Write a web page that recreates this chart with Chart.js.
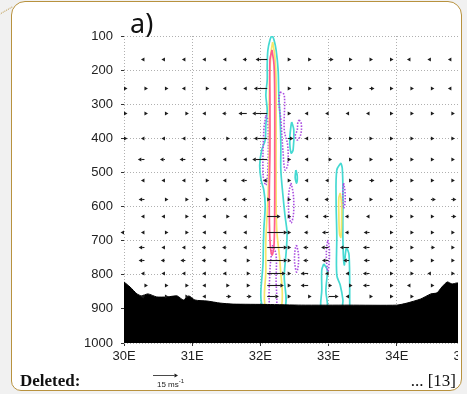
<!DOCTYPE html>
<html>
<head>
<meta charset="utf-8">
<script src="https://cdn.jsdelivr.net/npm/chart.js@4.4.1/dist/chart.umd.min.js"></script>
<style>
  body { margin: 0; width: 467px; height: 394px; background: #f1f1f1; position: relative; overflow: hidden; font-family: 'Liberation Sans', sans-serif; }
  #card { position: absolute; left: 11px; top: 1px; width: 449px; height: 388px; border: 1.5px solid #b8923e; border-radius: 14px 14px 12px 10px; background: #fff; }
  #wrap { position: absolute; left: 0; top: 0; width: 458px; height: 394px; overflow: hidden; }
  #lead { position: absolute; left: -1px; top: 14px; width: 15px; border-top: 1px dotted #b8923e; transform: rotate(-30deg); transform-origin: left top; }
  .t { position: absolute; line-height: 1; white-space: nowrap; color: #111; }
  #panel { left: 130px; top: 9px; font-family: 'Noto Sans', sans-serif; font-size: 27px; }
  #deleted { left: 20px; top: 372px; font-family: 'Liberation Serif', serif; font-weight: bold; font-size: 17px; }
  #ref { right: 11px; top: 372px; font-family: 'Liberation Serif', serif; font-size: 17px; }
  #key { left: 157px; top: 378px; font-size: 8px; color: #222; }
  #key sup { font-size: 6px; }
</style>
</head>
<body>
<div id="lead"></div>
<div id="card"></div>
<div id="wrap"><canvas id="c" width="470" height="394"></canvas></div>
<div class="t" id="panel">a)</div>
<div class="t" id="deleted">Deleted:</div>
<div class="t" id="ref">... [13]</div>
<div class="t" id="key">15 ms<sup>-1</sup></div>
<script>
// wind vector grid: longitude columns, pressure rows, zonal wind (m/s, + = eastward)
const lons = [30.0, 30.3, 30.6, 30.9, 31.2, 31.5, 31.8, 32.1, 32.4, 32.7, 33.0, 33.3, 33.6, 33.9, 34.2, 34.5, 34.8];
const levels = [167, 252, 326, 399, 461, 522, 578, 628, 675, 719, 757, 795, 830, 862];
const uWind = [
  [null, -2, -2, -1.5, -2, -1.5, -2.5, -7, 1.5, 2, 3, 2, 2, 2, -2, -2, -2],
  [1.5, 2, 2, -2, 2, -2, -2, -8, 1.5, 1.5, 2, 2, 3, 1.5, 2, 2, -2],
  [2, 1.5, 1.5, 2, -2, -2.5, -5, -9, 2, -2, -2, -2, -2, 2, 2, 2, 2],
  [1.5, -2, -1.5, -1.5, -2.5, 2, -2, -8, 3.5, -1.5, 2, 2, 2, 2, 2, 2, 2],
  [null, -4, -3, -3.5, -2.5, -1.5, -1.5, -9, 1.5, -2, 2, 1.5, 1.5, 2, 1.5, 1.5, 1.5],
  [null, -1.5, -2, -2, 2, -2, -3.5, -2.5, 1.5, -2, -2, 1.5, 3, 2, 1.5, 1.5, 1.5],
  [null, -3.5, 1.5, 1.5, 2, -2, -3, 1.5, 1.5, -2, -2.5, 1.5, 1.5, 1.5, 2, 3, 3],
  [null, -1.5, -2, 1.5, -2, 1.5, -1.5, 8, 1.5, -2, -3.5, -2.5, -1.5, 2, 1.5, 1.5, 3],
  [-1.5, -2, 2, 1.5, -2, -1.5, -1.5, 12, 1.5, -2.5, -4, -2.5, -3.5, 1.5, 2, 1.5, 1.5],
  [null, -3.5, -2, -1.5, -2.5, -2.5, -1.5, 12, 1.5, -3, -4.5, -5.5, -4, 1.5, 1.5, 2.5, 1.5],
  [null, -3.5, -2.5, -3, -2.5, -2, 1.5, 12, 1.5, -3, -4, -3.5, -3.5, 1.5, 1.5, 1.5, 1.5],
  [null, -2, -2, -1.5, -2, -1.5, 2, 11, 1.5, -4.5, -1.5, -1.5, -4, 1.5, 2, -2, 1.5],
  [null, 1.5, 2, 2, -2, 1.5, 2, 10, 1.5, -4.5, 1.5, 1.5, -4, 1.5, -2, 1.5, null],
  [null, -2.5, 2, 2, -2, 3, 3, 7, 1.5, 1.5, 6, -2, 1.5, 1.5, 1.5, null, null]
];
const refSpeed = 15;

// terrain (surface pressure along the section)
const terrainLon = [30.0, 30.09, 30.19, 30.26, 30.35, 30.48, 30.63, 30.78, 30.87, 30.95, 31.04, 31.22, 31.41, 31.6, 32.1, 32.6, 33.3, 34.0, 34.15, 34.35, 34.5, 34.59, 34.66, 34.74, 34.81, 34.88, 35.0];
const terrainP = [821, 836, 856, 862, 856, 865, 865, 862, 874, 862, 874, 877, 883, 886, 887, 889, 889, 889, 883, 871, 856, 853, 836, 821, 827, 824, 826];

// contour outlines [lon, hPa]
const cyanMain = [[32.17,97],[32.14,112],[32.11,141],[32.10,185],[32.10,229],[32.08,273],[32.10,317],[32.08,361],[32.07,405],[32.02,434],[31.99,478],[32.01,522],[32.05,552],[32.07,596],[32.05,669],[32.04,757],[32.04,900],[32.35,900],[32.35,801],[32.38,727],[32.39,675],[32.36,625],[32.33,566],[32.30,493],[32.30,420],[32.29,346],[32.27,273],[32.26,200],[32.23,141],[32.20,112],[32.17,97]];
const yellowMain = [[32.18,118],[32.16,141],[32.14,200],[32.13,288],[32.13,434],[32.11,581],[32.08,698],[32.08,786],[32.08,900],[32.30,900],[32.29,771],[32.24,669],[32.23,552],[32.23,376],[32.23,229],[32.21,156],[32.18,118]];
const pinkMain = [[32.17,141],[32.14,170],[32.14,288],[32.14,434],[32.13,581],[32.14,698],[32.17,742],[32.20,713],[32.21,581],[32.21,434],[32.21,288],[32.20,185],[32.17,141]];
const cyanSmallA = [[32.46,352],[32.49,376],[32.48,434],[32.45,443],[32.43,405],[32.45,361],[32.46,352]];
const cyanSmallB = [[32.52,493],[32.54,510],[32.53,531],[32.51,515],[32.52,493]];
const cyanEast = [[33.18,472],[33.12,493],[33.11,581],[33.12,683],[33.12,801],[33.17,830],[33.21,874],[33.21,900],[33.31,900],[33.31,889],[33.30,742],[33.26,722],[33.23,771],[33.21,698],[33.21,552],[33.20,487],[33.18,472]];
const cyanLoop = [[32.93,768],[32.98,786],[32.96,845],[32.98,900],[32.89,900],[32.90,845],[32.90,786],[32.93,768]];
const yellowEast = [[33.17,560],[33.19,590],[33.19,650],[33.18,690],[33.16,680],[33.15,620],[33.15,575],[33.17,560]];
const purpleA = [[32.29,264],[32.35,273],[32.35,376],[32.40,420],[32.40,478],[32.36,493],[32.33,434],[32.30,346],[32.27,288],[32.29,264]];
const purpleB = [[32.08,332],[32.11,346],[32.11,493],[32.08,537],[32.04,508],[32.05,376],[32.08,332]];
const purpleC = [[32.57,346],[32.60,358],[32.59,390],[32.54,405],[32.51,393],[32.54,376],[32.55,352],[32.57,346]];
const purpleD = [[32.45,531],[32.48,560],[32.49,596],[32.48,630],[32.45,648],[32.42,625],[32.41,590],[32.42,555],[32.45,531]];
const purpleE = [[32.53,713],[32.555,735],[32.56,755],[32.55,780],[32.53,792],[32.505,770],[32.5,750],[32.51,725],[32.53,713]];
const purpleF = [[32.18,713],[32.23,742],[32.23,815],[32.23,900],[32.14,900],[32.14,786],[32.16,742],[32.18,713]];
const purpleG = [[32.99,698],[33.01,720],[33.01,760],[32.99,790],[32.97,760],[32.97,720],[32.99,698]];
const purpleH = [[33.22,531],[33.24,555],[33.24,590],[33.22,605],[33.21,580],[33.21,550],[33.22,531]];

const CYAN = '#45d9d2', YELLOW = '#f6e66a', PINK = '#ff5c8e', PURPLE = '#a94ce0';
const PX_PER_MS = 25 / 15;

function contour(pts, color, dotted) {
  return {
    data: pts.map(p => ({x: p[0], y: p[1]})),
    showLine: true,
    borderColor: color,
    borderWidth: dotted ? 1.6 : 1.7,
    borderDash: dotted ? [1.5, 1.5] : [],
    pointRadius: 0,
    tension: 0.35,
    fill: false
  };
}

function drawArrow(ctx, x0, y0, len) {
  const s = Math.sign(len) || 1, h = 3.5, w = 1.9;
  const L = Math.max(Math.abs(len), h);
  const tip = x0 + s * L;
  y0 = Math.round(y0) + 0.5;
  if (L > h) {
    ctx.beginPath(); ctx.moveTo(x0, y0); ctx.lineTo(tip - s * h, y0); ctx.stroke();
  }
  ctx.beginPath();
  ctx.moveTo(tip, y0); ctx.lineTo(tip - s * h, y0 - w); ctx.lineTo(tip - s * h, y0 + w);
  ctx.closePath(); ctx.fill();
}

const quiver = {
  id: 'quiver',
  afterDatasetsDraw(chart) {
    const {ctx, chartArea, scales: {x, y}} = chart;
    ctx.save();
    ctx.strokeStyle = ctx.fillStyle = '#1c1c1c';
    ctx.lineWidth = 1.1;
    levels.forEach((p, i) => {
      lons.forEach((lon, j) => {
        const u = uWind[i][j];
        if (u === null) return;
        drawArrow(ctx, x.getPixelForValue(lon), y.getPixelForValue(p), u * PX_PER_MS);
      });
    });
    // reference vector
    ctx.lineWidth = 0.8;
    drawArrow(ctx, chartArea.left + 29, chartArea.bottom + 32, refSpeed * PX_PER_MS);
    ctx.restore();
  }
};

const datasets = [
  {
    data: terrainLon.map((v, i) => ({x: v, y: terrainP[i]})),
    showLine: true, borderColor: '#000', borderWidth: 1, backgroundColor: '#000',
    pointRadius: 0, tension: 0.2, fill: {value: 1000}
  },
  contour(pinkMain, PINK),
  contour(yellowMain, YELLOW),
  contour(yellowEast, YELLOW),
  contour(purpleA, PURPLE, true),
  contour(purpleB, PURPLE, true),
  contour(purpleC, PURPLE, true),
  contour(purpleD, PURPLE, true),
  contour(purpleE, PURPLE, true),
  contour(purpleF, PURPLE, true),
  contour(purpleG, PURPLE, true),
  contour(purpleH, PURPLE, true),
  contour(cyanMain, CYAN),
  contour(cyanSmallA, CYAN),
  contour(cyanSmallB, CYAN),
  contour(cyanEast, CYAN),
  contour(cyanLoop, CYAN)
];

const gridOpts = { color: '#b0b0b0', lineWidth: 1, tickColor: '#333', tickLength: 3, tickBorderDash: [] };
const borderOpts = { display: false, dash: [1, 2] };

new Chart(document.getElementById('c'), {
  type: 'scatter',
  data: { datasets },
  options: {
    responsive: false,
    animation: false,
    layout: { padding: { left: 0, right: 5, top: 36, bottom: 0 } },
    plugins: { legend: { display: false }, tooltip: { enabled: false } },
    scales: {
      x: {
        type: 'linear', min: 30, max: 35, z: 1,
        grid: gridOpts,
        border: borderOpts,
        ticks: { stepSize: 1, padding: 3, color: '#222', font: { family: 'Liberation Sans', size: 13 },
                 callback: v => v + 'E', maxRotation: 0, autoSkip: false },
        afterFit: s => { s.height = 51; s.paddingLeft = 0; s.paddingRight = 0; }
      },
      y: {
        type: 'linear', min: 100, max: 1000, reverse: true, z: 1,
        grid: gridOpts,
        border: borderOpts,
        ticks: { stepSize: 100, padding: 8, color: '#222', font: { family: 'Liberation Sans', size: 13 },
                 callback: v => String(v), autoSkip: false },
        afterFit: s => { s.width = 124; s.paddingTop = 0; s.paddingBottom = 0; }
      }
    }
  },
  plugins: [quiver]
});
</script>
</body>
</html>
